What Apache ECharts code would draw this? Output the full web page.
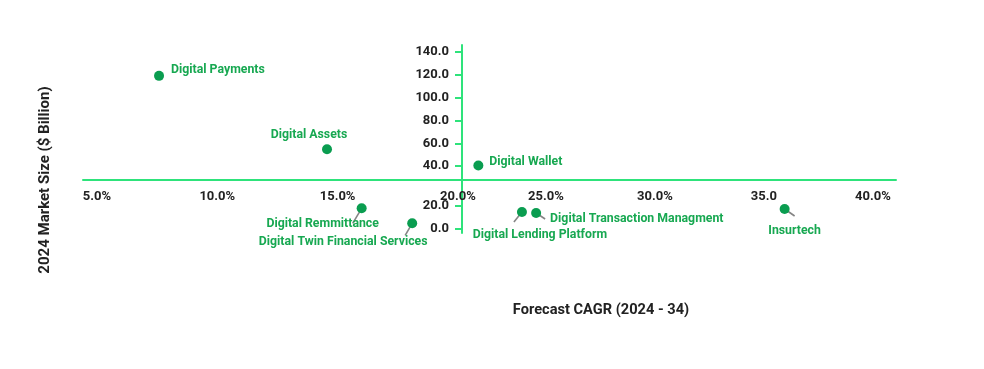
<!DOCTYPE html>
<html><head><meta charset="utf-8">
<script src="https://cdn.jsdelivr.net/npm/echarts@6/dist/echarts.min.js"></script>
<style>html,body{margin:0;padding:0;background:#fff}#c{width:984px;height:369px}</style>
</head><body><div id="c"></div>
<script>
// ---- data ----
const names = ['Digital Payments','Digital Assets','Digital Remmittance','Digital Twin Financial Services','Digital Wallet','Digital Lending Platform','Digital Transaction Managment','Insurtech'];
const cagr = [7.58, 14.56, 16.0, 18.1, 21.9, 23.9, 24.55, 35.95];
const marketSize = [119.0, 54.8, 18.1, 5.0, 40.5, 14.9, 14.0, 17.5];
const xTicksLeft = [5, 10, 15, 20];
const xLabelsLeft = ['5.0%', '10.0%', '15.0%', '20.0%'];
const xTicksRight = [25, 30, 35, 40];
const xLabelsRight = ['25.0%', '30.0%', '35.0', '40.0%'];
const yTicks = [0, 20, 40, 60, 80, 100, 120, 140];
const yTickLabels = ['0.0', '20.0', '40.0', '60.0', '80.0', '100.0', '120.0', '140.0'];
const yBreak = {start: 20, end: 40};
const crossX = 20;
const xTitle = 'Forecast CAGR (2024 - 34)';
const yTitle = '2024 Market Size ($ Billion)';

// ---- styles ----
const GREEN_AXIS = '#2ee37b';
const DOT = '#0a9d50';
const LABEL = '#17a851';
const LINE = '#858585';
const FONT = 'Roboto';
// label offsets and leader-line vectors (relative to each mark)
const labelStyle = {
  'Digital Payments': {pos: 'right', dx: 2, dy: -6},
  'Digital Assets': {pos: 'top', dx: -18, dy: 2},
  'Digital Wallet': {pos: 'right', dx: 1, dy: -4},
  'Digital Remmittance': {pos: 'bottom', dx: -39, dy: 0, lead: [-9, 15]},
  'Digital Twin Financial Services': {pos: 'bottom', dx: -69, dy: 3, lead: [-7, 12]},
  'Digital Lending Platform': {pos: 'bottom', dx: 18, dy: 7, lead: [-8, 10]},
  'Digital Transaction Managment': {pos: 'right', dx: 4, dy: 6, lead: [9, 6]},
  'Insurtech': {pos: 'bottom', dx: 10, dy: 6, lead: [10, 7]}
};

function buildData(filter) {
  const out = [];
  names.forEach((n, i) => {
    if (!filter(cagr[i])) return;
    out.push({name: n, value: [cagr[i], marketSize[i]], label: {position: labelStyle[n].pos}});
  });
  return out;
}
const leftData = buildData(v => v < crossX);
const rightData = buildData(v => v >= crossX);

function yAxisCfg(gridIndex, visible) {
  return {
    gridIndex, type: 'value', show: visible, position: 'left', offset: -379,
    min: -3.5, max: 146,
    breaks: [{start: yBreak.start, end: yBreak.end, gap: '21.3%'}],
    breakArea: {show: false, itemStyle: {color: 'transparent', borderColor: 'transparent', opacity: 0}},
    axisLine: {show: false, onZero: false},
    axisTick: {show: true, customValues: yTicks, length: 7, lineStyle: {color: GREEN_AXIS, width: 2}},
    axisLabel: {customValues: yTicks, margin: 13, color: '#222', fontWeight: 'bold', fontSize: 13, fontFamily: FONT,
      formatter: v => yTickLabels[yTicks.indexOf(v)] ?? ''},
    splitLine: {show: false}
  };
}
// plain axis only used to draw the continuous vertical axis line
const yLineAxis = {
  gridIndex: 0, type: 'value', position: 'left', offset: -379, min: -3.5, max: 146,
  axisLine: {show: true, onZero: false, lineStyle: {color: GREEN_AXIS, width: 2}},
  axisTick: {show: false}, axisLabel: {show: false}, splitLine: {show: false}
};
function xAxisCfg(gridIndex, min, max, ticks, labels) {
  return {
    gridIndex, type: 'value', position: 'bottom', offset: -53, min, max,
    axisLine: {show: true, onZero: false, lineStyle: {color: GREEN_AXIS, width: 2}},
    axisTick: {show: false},
    axisLabel: {customValues: ticks, margin: 10, color: '#222', fontWeight: 'bold', fontSize: 13, fontFamily: FONT,
      formatter: v => labels[ticks.indexOf(v)] ?? ''},
    splitLine: {show: false}
  };
}
function seriesCfg(idx, data) {
  return {
    type: 'scatter', xAxisIndex: idx, yAxisIndex: idx, data, clip: false, z: 3,
    symbolSize: 10, itemStyle: {color: DOT, opacity: 1},
    label: {show: true, formatter: '{b}', color: LABEL, fontWeight: 'bold', fontSize: 12.3, fontFamily: FONT, distance: 5},
    labelLayout: function (p) {
      const s = labelStyle[data[p.dataIndex].name];
      return {dx: s.dx, dy: s.dy, hideOverlap: false};
    },
    emphasis: {disabled: true}
  };
}
function leadCfg(idx, data) {
  const ld = data.filter(d => labelStyle[d.name].lead);
  return {
    type: 'custom', xAxisIndex: idx, yAxisIndex: idx, z: 2, silent: true, clip: false,
    data: ld,
    renderItem: function (params, api) {
      const p = api.coord([api.value(0), api.value(1)]);
      const v = labelStyle[ld[params.dataIndex].name].lead;
      return {type: 'line', shape: {x1: p[0], y1: p[1], x2: p[0] + v[0], y2: p[1] + v[1]},
        style: {stroke: LINE, lineWidth: 1.6}};
    }
  };
}

const chart = echarts.init(document.getElementById('c'), null, {renderer: 'canvas'});
chart.setOption({
  animation: false,
  grid: [
    {left: 83, width: 379, top: 45, bottom: 136, containLabel: false},
    {left: 462, right: 88, top: 45, bottom: 136, containLabel: false}
  ],
  xAxis: [xAxisCfg(0, 4.42, 20.17, xTicksLeft, xLabelsLeft), xAxisCfg(1, 21.15, 41.06, xTicksRight, xLabelsRight)],
  yAxis: [yAxisCfg(0, true), yAxisCfg(1, false), yLineAxis],
  series: [leadCfg(0, leftData), leadCfg(1, rightData), seriesCfg(0, leftData), seriesCfg(1, rightData)],
  graphic: [
    {type: 'text', x: 601, y: 310, style: {text: xTitle, fill: '#222', font: 'bold 14.6px Roboto', textAlign: 'center', textVerticalAlign: 'middle'}},
    {type: 'text', x: 45, y: 180, rotation: Math.PI / 2, style: {text: yTitle, fill: '#222', font: 'bold 15px Roboto', textAlign: 'center', textVerticalAlign: 'middle'}}
  ]
});
</script>
</body></html>
